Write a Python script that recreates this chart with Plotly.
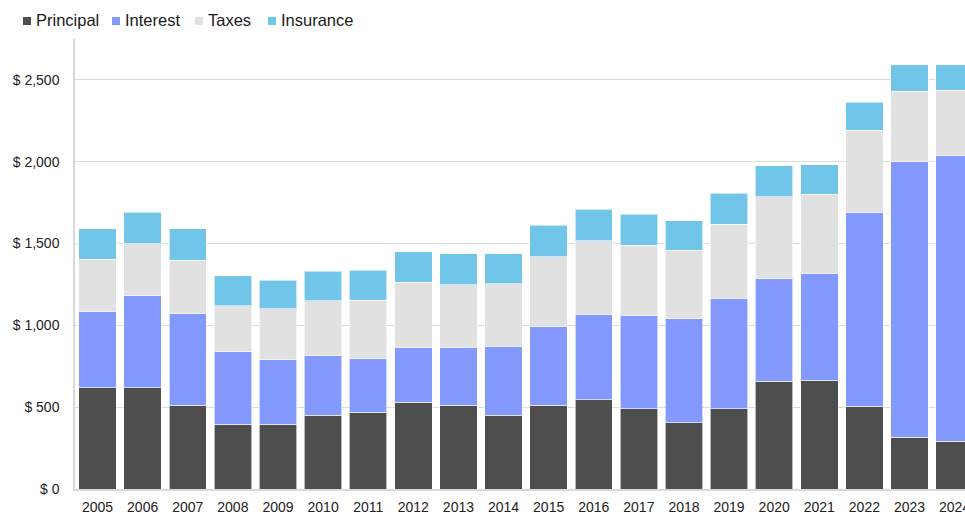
import plotly.graph_objects as go

# Monthly housing cost breakdown by year
years = ["2005", "2006", "2007", "2008", "2009", "2010", "2011", "2012", "2013", "2014",
         "2015", "2016", "2017", "2018", "2019", "2020", "2021", "2022", "2023", "2024"]

principal = [618, 618, 512, 396, 396, 451, 469, 530, 512, 451,
             512, 545, 491, 404, 491, 658, 665, 506, 316, 292]
interest = [467, 563, 559, 443, 395, 362, 330, 336, 354, 421,
            482, 522, 570, 637, 676, 631, 653, 1184, 1685, 1746]
taxes = [318, 318, 326, 281, 311, 336, 356, 397, 382, 383,
         424, 450, 430, 417, 452, 497, 482, 501, 430, 399]
insurance = [187, 193, 193, 182, 175, 181, 181, 187, 190, 183,
             193, 194, 187, 181, 187, 189, 181, 173, 161, 155]

series_names = ["Principal", "Interest", "Taxes", "Insurance"]
series_values = [principal, interest, taxes, insurance]
series_colors = ["#4e4e4e", "#8399fe", "#e1e1e1", "#71c5e9"]

y_ticks = [0, 500, 1000, 1500, 2000, 2500]

FONT = "Liberation Sans, Arial, sans-serif"

fig = go.Figure()
for name, vals, color in zip(series_names, series_values, series_colors):
    fig.add_trace(go.Bar(
        x=years, y=vals, name=name,
        marker=dict(color=color, line=dict(color="rgba(255,255,255,0.6)", width=1)),
        showlegend=False,
    ))

# Compact legend row along the top
legend_x = [23, 112, 195, 268]
for name, color, lx in zip(series_names, series_colors, legend_x):
    fig.add_shape(type="rect", xref="paper", yref="paper",
                  x0=(lx - 75) / 890, x1=(lx + 8 - 75) / 890,
                  y0=(489.5 - 25) / 450.5, y1=(489.5 - 17) / 450.5,
                  fillcolor=color, line=dict(width=0), layer="above")
    fig.add_annotation(text=name, xref="paper", yref="paper",
                       x=(lx + 11 - 75) / 890, y=(489.5 - 20) / 450.5,
                       xanchor="left", yanchor="middle", showarrow=False,
                       font=dict(family=FONT, size=16.5, color="#1a1a1a"))

fig.update_layout(
    barmode="stack",
    bargap=0.17,
    width=965, height=514,
    margin=dict(l=75, r=0, t=38.5, b=24.5),
    paper_bgcolor="white", plot_bgcolor="white",
    font=dict(family=FONT, size=14, color="#222222"),
    xaxis=dict(
        type="category",
        range=[-0.5, 19.23],
        showgrid=False,
        showline=True, linecolor="#d9d9d9", linewidth=1.5,
        ticks="", ticklabelstandoff=4,
        tickfont=dict(family=FONT, size=14, color="#222222"),
        automargin=False,
    ),
    yaxis=dict(
        range=[0, 2750],
        tickvals=y_ticks,
        ticktext=["$ " + f"{v:,}" for v in y_ticks],
        showgrid=True, gridcolor="#dcdcdc", gridwidth=1,
        showline=True, linecolor="#d9d9d9", linewidth=1.5,
        zeroline=False,
        ticks="", ticklabelstandoff=11,
        tickfont=dict(family=FONT, size=14, color="#222222"),
        automargin=False,
    ),
)

fig.write_html("out.html")
